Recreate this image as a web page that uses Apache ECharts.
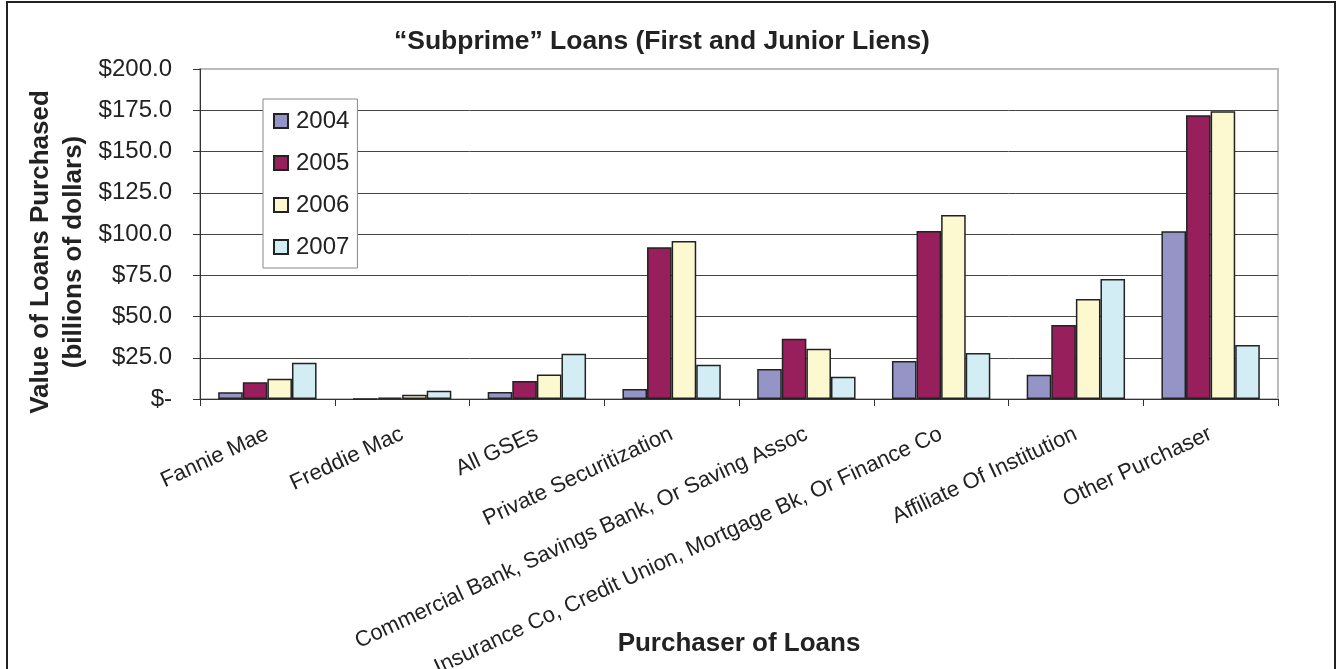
<!DOCTYPE html>
<html>
<head>
<meta charset="utf-8">
<style>
html,body{margin:0;padding:0;background:#fff;}
#chart{width:1343px;height:669px;}
</style>
<script src="https://cdn.jsdelivr.net/npm/echarts@6/dist/echarts.min.js"></script>
</head>
<body>
<div id="chart"></div>
<script>
const categories = ["Fannie Mae", "Freddie Mac", "All GSEs", "Private Securitization",
  "Commercial Bank, Savings Bank, Or Saving Assoc",
  "Insurance Co, Credit Union, Mortgage Bk, Or Finance Co",
  "Affiliate Of Institution", "Other Purchaser"];
const years = ["2004", "2005", "2006", "2007"];
const values2004 = [4.1, 0.1, 4.2, 6.1, 18.2, 23.0, 14.7, 101.6];
const values2005 = [10.1, 0.8, 10.9, 92.0, 36.5, 101.8, 44.8, 171.9];
const values2006 = [12.3, 2.6, 14.9, 95.8, 30.5, 111.5, 60.6, 174.4];
const values2007 = [22.0, 5.0, 27.5, 20.8, 13.5, 27.9, 72.7, 32.7];
const seriesValues = [values2004, values2005, values2006, values2007];
const colors = ["#9494C6", "#971F5C", "#FCF8CF", "#D2EDF3"];

const font = "'Liberation Sans', Arial, sans-serif";
const chart = echarts.init(document.getElementById('chart'));
chart.setOption({
  animation: false,
  backgroundColor: '#fff',
  title: {
    text: '\u201CSubprime\u201D Loans (First and Junior Liens)',
    left: 394, top: 28,
    padding: 0,
    textStyle: {fontFamily: font, fontSize: 26.5, fontWeight: 'bold', color: '#222'}
  },
  graphic: [{
    type: 'rect', silent: true, z: 100,
    shape: {x: 7, y: 2, width: 1328, height: 700},
    style: {fill: 'none', stroke: '#222', lineWidth: 2}
  }],
  legend: {
    data: years,
    orient: 'vertical',
    left: 263, top: 99,
    padding: [10, 8, 9, 10],
    itemWidth: 14, itemHeight: 14,
    itemGap: 18,
    icon: 'rect',
    backgroundColor: '#fff',
    borderColor: '#888', borderWidth: 1,
    textStyle: {fontFamily: font, fontSize: 24, color: '#222', lineHeight: 24, padding: [0, 0, 0, 3]}
  },
  grid: {
    left: 200, right: 65, top: 69, bottom: 270,
    outerBoundsMode: 'none',
    containLabel: false,
    show: true, borderColor: '#bbb', borderWidth: 2, backgroundColor: 'transparent'
  },
  xAxis: {
    type: 'category',
    data: categories,
    name: 'Purchaser of Loans',
    nameLocation: 'middle',
    nameGap: 232,
    nameMoveOverlap: false,
    nameTextStyle: {fontFamily: font, fontSize: 26, fontWeight: 'bold', color: '#222'},
    axisLine: {lineStyle: {color: '#333', width: 1}},
    axisTick: {show: true, length: 7, lineStyle: {color: '#333'}},
    axisLabel: {interval: 0, rotate: 25, margin: 34, fontFamily: font, fontSize: 22, color: '#222'}
  },
  yAxis: {
    type: 'value',
    min: 0, max: 200, interval: 25,
    name: 'Value of Loans Purchased\n(billions of dollars)',
    nameLocation: 'middle',
    nameRotate: 90,
    nameGap: 110,
    nameMoveOverlap: false,
    nameTextStyle: {fontFamily: font, fontSize: 26, fontWeight: 'bold', color: '#222', lineHeight: 33, padding: [0, 36, 0, 0]},
    axisLine: {show: true, lineStyle: {color: '#333', width: 1}},
    axisTick: {show: true, length: 7, lineStyle: {color: '#333'}},
    axisLabel: {
      margin: 28, fontFamily: font, fontSize: 24, color: '#222',
      formatter: v => v === 0 ? '$-' : '$' + v.toFixed(1)
    },
    splitLine: {show: true, showMaxLine: false, lineStyle: {color: '#444', width: 1}}
  },
  series: years.map((y, i) => ({
    name: y,
    type: 'bar',
    data: seriesValues[i],
    barGap: '0%',
    barCategoryGap: '27%',
    itemStyle: {color: colors[i], borderColor: '#222', borderWidth: 1.5}
  }))
});
</script>
</body>
</html>
